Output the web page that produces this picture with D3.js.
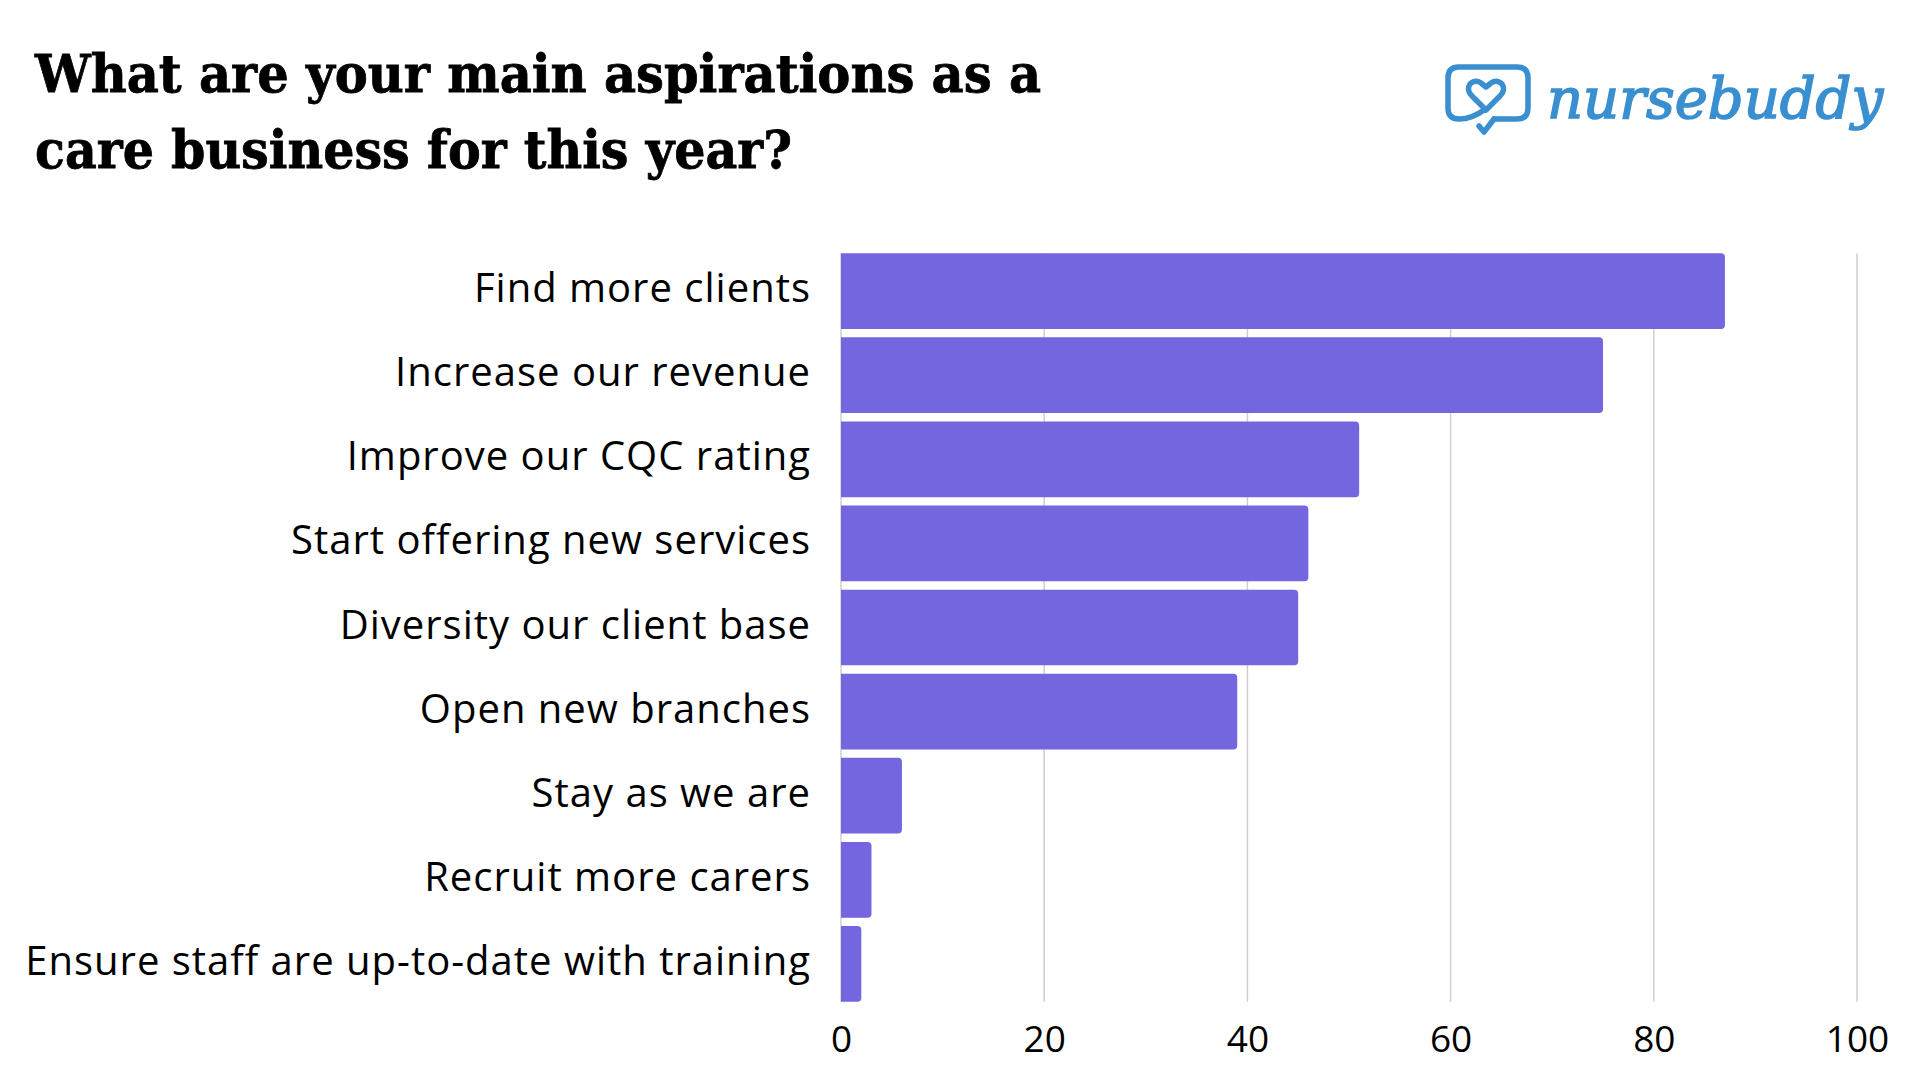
<!DOCTYPE html>
<html>
<head>
<meta charset="utf-8">
<script src="https://cdn.jsdelivr.net/npm/d3@7"></script>
<style>
  html, body { margin: 0; padding: 0; background: #ffffff; }
  svg { display: block; }
</style>
</head>
<body>
<svg id="chart" width="1920" height="1080"></svg>
<script>
// ---- data ----
const categories = [
  "Find more clients",
  "Increase our revenue",
  "Improve our CQC rating",
  "Start offering new services",
  "Diversity our client base",
  "Open new branches",
  "Stay as we are",
  "Recruit more carers",
  "Ensure staff are up-to-date with training"
];
const values = [87, 75, 51, 46, 45, 39, 6, 3, 2];
const tickValues = [0, 20, 40, 60, 80, 100];
const titleLines = ["What are your main aspirations as a", "care business for this year?"];
const brandName = "nursebuddy";

// ---- layout ----
const svg = d3.select("#chart");
const barColor = "#7366de";
const brandColor = "#3a8fd0";
const labelFont = "'Open Sans', 'Noto Sans', sans-serif";

const x = d3.scaleLinear().domain([0, 100]).range([841, 1857]);
const y = d3.scaleBand().domain(categories).range([249, 1006]).paddingInner(0.1).paddingOuter(0.05);

const gridTop = y(categories[0]);
const gridBottom = y(categories[categories.length - 1]) + y.bandwidth();

// gridlines
svg.append("g").selectAll("line").data(tickValues).join("line")
  .attr("x1", d => x(d)).attr("x2", d => x(d))
  .attr("y1", gridTop).attr("y2", gridBottom)
  .attr("stroke", "#cfcfcf").attr("stroke-width", 1.5);

// bars (rounded right corners only)
function barPath(x0, x1, y0, h, r) {
  r = Math.min(r, (x1 - x0) / 2, h / 2);
  return `M${x0},${y0}H${x1 - r}Q${x1},${y0} ${x1},${y0 + r}V${y0 + h - r}Q${x1},${y0 + h} ${x1 - r},${y0 + h}H${x0}Z`;
}
svg.append("g").selectAll("path").data(values).join("path")
  .attr("d", (d, i) => barPath(x(0), x(d), y(categories[i]), y.bandwidth(), 4))
  .attr("fill", barColor);

// category labels
svg.append("g").selectAll("text").data(categories).join("text")
  .attr("x", 811)
  .attr("y", d => y(d) + y.bandwidth() / 2 + 11)
  .attr("text-anchor", "end")
  .attr("font-family", labelFont)
  .attr("font-size", 40)
  .attr("letter-spacing", 1)
  .attr("fill", "#000")
  .text(d => d);

// x axis tick labels
const xAxis = d3.axisBottom(x).tickValues(tickValues).tickSize(0).tickPadding(0);
const axisG = svg.append("g").attr("transform", `translate(0, ${gridBottom})`).call(xAxis);
axisG.select(".domain").remove();
axisG.selectAll("text")
  .attr("y", 50)
  .attr("dy", 0)
  .attr("font-family", labelFont)
  .attr("font-size", 37)
  .attr("fill", "#000");

// title
const titleWidths = [1006, 757];
svg.append("g").selectAll("text").data(titleLines).join("text")
  .attr("x", 35)
  .attr("y", (d, i) => 92 + i * 76)
  .attr("font-family", "'DejaVu Serif', serif")
  .attr("font-weight", "bold")
  .attr("font-size", 53)
  .attr("fill", "#000")
  .attr("stroke", "#000")
  .attr("stroke-width", 0.8)
  .attr("textLength", (d, i) => titleWidths[i])
  .attr("lengthAdjust", "spacingAndGlyphs")
  .text(d => d);

// logo
const logo = svg.append("g").attr("fill", "none").attr("stroke", brandColor)
  .attr("stroke-width", 5.5).attr("stroke-linecap", "round").attr("stroke-linejoin", "round");
// speech bubble
logo.append("path").attr("d",
  "M1494,119 H1517 Q1528,119 1528,108 V78 Q1528,67 1517,67 H1459 Q1448,67 1448,78 V108 Q1448,119 1459,119 Q1472,119 1484,110");
// tail
logo.append("path").attr("d", "M1494,119 L1484,132 L1479,126");
// heart
logo.append("path").attr("d",
  "M1486,110 L1472,96 Q1466,90 1470,84 Q1475,79 1481,83 L1486,87 L1491,83 Q1497,79 1502,84 Q1506,90 1500,96 Z");
svg.append("text")
  .attr("x", 1547).attr("y", 118)
  .attr("font-family", "'DejaVu Serif', serif")
  .attr("font-style", "italic")
  .attr("font-size", 56)
  .attr("fill", brandColor)
  .attr("stroke", brandColor)
  .attr("stroke-width", 1.6)
  .text(brandName);
</script>
</body>
</html>
